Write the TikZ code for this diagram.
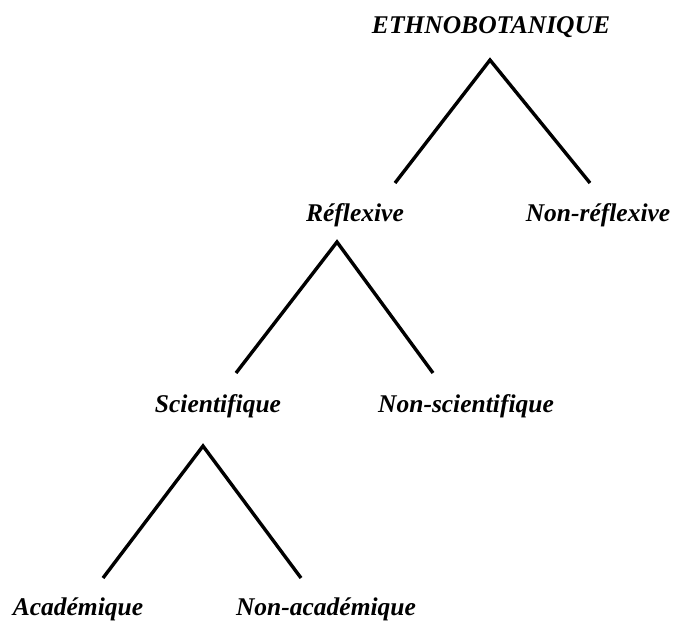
\documentclass[tikz,border=0pt]{standalone}
\usepackage{fontspec}
\setmainfont{Liberation Serif}
\tikzset{
  lbl/.style={font=\bfseries\itshape\fontsize{25.5}{30}\selectfont, inner sep=0pt, anchor=base},
  branch/.style={line width=3.4pt, black}
}
\begin{document}
\begin{tikzpicture}[x=1pt,y=-1pt]
\useasboundingbox (0,0) rectangle (692,623);
% labels
\node[lbl] (ethno) at (491,34) {ETHNOBOTANIQUE};
\node[lbl] (refl) at (355,221) {Réflexive};
\node[lbl] (nrefl) at (598,221) {Non-réflexive};
\node[lbl] (sci) at (218,412) {Scientifique};
\node[lbl] (nsci) at (466,412) {Non-scientifique};
\node[lbl] (aca) at (78,615) {Académique};
\node[lbl] (naca) at (326,615) {Non-académique};
% branch points
\coordinate (a1) at (490,60);
\coordinate (l1) at (395,183);
\coordinate (r1) at (590,183);
\coordinate (a2) at (337,242);
\coordinate (l2) at (236,373);
\coordinate (r2) at (433,373);
\coordinate (a3) at (203,446);
\coordinate (l3) at (103,578);
\coordinate (r3) at (301,578);
\draw[branch] (l1) -- (a1) -- (r1);
\draw[branch] (l2) -- (a2) -- (r2);
\draw[branch] (l3) -- (a3) -- (r3);
\end{tikzpicture}
\end{document}
